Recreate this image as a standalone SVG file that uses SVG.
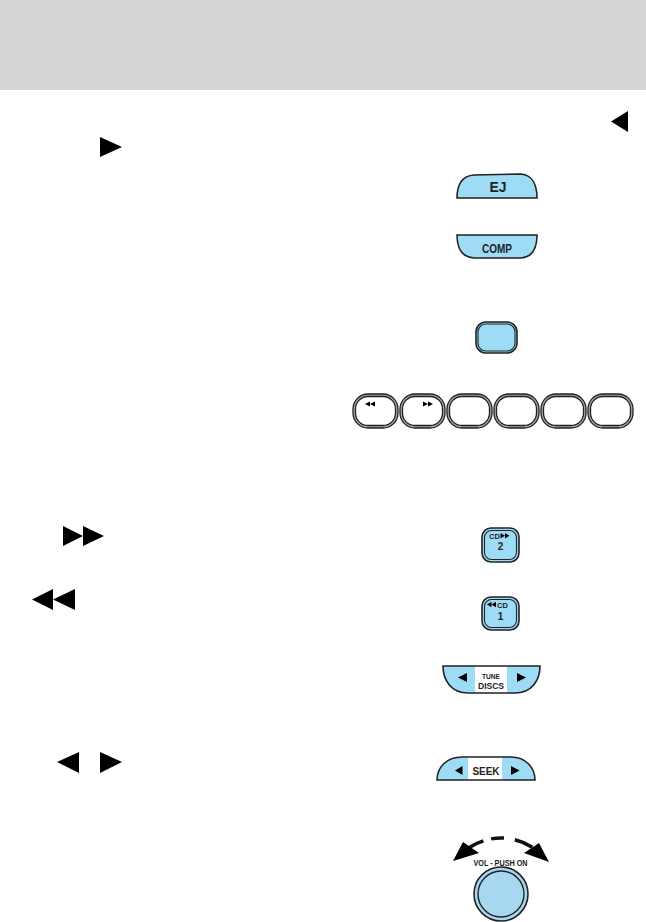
<svg xmlns="http://www.w3.org/2000/svg" width="646" height="922" viewBox="0 0 646 922">
<defs>
<style>
.bf{fill:#9edcf6;stroke:#222;stroke-width:1.6}
.ol{fill:none;stroke:#222;stroke-width:1.1}
.ob{fill:#a8a8a8;stroke:#222;stroke-width:1.3}
.ib{fill:#fff;stroke:#222;stroke-width:1.3}
.t{font-family:"Liberation Sans Narrow","Liberation Sans",Arial,sans-serif;font-weight:bold;fill:#222;text-anchor:middle}
.k{fill:#000}
.w{fill:#fff}
</style>
</defs>
<rect x="0" y="0" width="646" height="90" fill="#d4d4d4"/>
<g id="text-icons">
<polygon class="k" points="611,121.5 628,111 628,132"/>
<polygon class="k" points="100,137 100,157 122,147"/>
<polygon class="k" points="63,526 63,546 83,536"/>
<polygon class="k" points="83,526 83,546 104,536"/>
<polygon class="k" points="32,599.5 53,589 53,610"/>
<polygon class="k" points="53,599.5 75,589 75,610"/>
<polygon class="k" points="57,762 79,752 79,773"/>
<polygon class="k" points="100,752 100,773 122,762"/>
</g>
<g id="ej">
<path class="bf" d="M457,198 C457,186 461,176 474,175 L521,174 C533,175 537,186 537,198 Z"/>
<text class="t" x="498" y="192" font-size="14.5" textLength="17" lengthAdjust="spacingAndGlyphs">EJ</text>
</g>
<g id="comp">
<path class="bf" d="M457,235 L537,235 C537,247 533,257 521,258 L474,258 C461,257 457,247 457,235 Z"/>
<text class="t" x="497" y="252.5" font-size="13" textLength="30" lengthAdjust="spacingAndGlyphs">COMP</text>
</g>
<g id="square">
<rect class="bf" x="476" y="322" width="41" height="31" rx="10" stroke-width="2.2"/>
<rect class="ol" x="478" y="324" width="37" height="27" rx="8"/>
</g>
<g id="presets">
<rect class="ob" x="353" y="394" width="45" height="34" rx="15"/>
<rect class="ib" x="355.5" y="396.5" width="40" height="29" rx="12.5"/>
<polygon class="k" points="365,404 370,401.5 370,406.5"/>
<polygon class="k" points="370,404 375,401.5 375,406.5"/>
<rect class="ob" x="400" y="394" width="45" height="34" rx="15"/>
<rect class="ib" x="402.5" y="396.5" width="40" height="29" rx="12.5"/>
<polygon class="k" points="423,401.5 423,406.5 428,404"/>
<polygon class="k" points="428,401.5 428,406.5 433,404"/>
<rect class="ob" x="447" y="394" width="45" height="34" rx="15"/>
<rect class="ib" x="449.5" y="396.5" width="40" height="29" rx="12.5"/>
<rect class="ob" x="494" y="394" width="45" height="34" rx="15"/>
<rect class="ib" x="496.5" y="396.5" width="40" height="29" rx="12.5"/>
<rect class="ob" x="541" y="394" width="45" height="34" rx="15"/>
<rect class="ib" x="543.5" y="396.5" width="40" height="29" rx="12.5"/>
<rect class="ob" x="588" y="394" width="45" height="34" rx="15"/>
<rect class="ib" x="590.5" y="396.5" width="40" height="29" rx="12.5"/>
</g>
<g id="cd2">
<rect class="bf" x="482" y="528" width="37" height="34" rx="9"/>
<rect class="ol" x="484.5" y="530.5" width="32" height="29" rx="7"/>
<text class="t" x="494.5" y="538.5" font-size="7.5">CD</text>
<polygon class="k" points="500.5,533 500.5,538.5 505,535.75"/>
<polygon class="k" points="505,533 505,538.5 509.5,535.75"/>
<text class="t" x="500.5" y="550" font-size="10">2</text>
</g>
<g id="cd1">
<rect class="bf" x="482" y="597" width="37" height="33" rx="9"/>
<rect class="ol" x="484.5" y="599.5" width="32" height="28" rx="7"/>
<polygon class="k" points="487,604.5 491.5,601.75 491.5,607.25"/>
<polygon class="k" points="491.5,604.5 496,601.75 496,607.25"/>
<text class="t" x="502.5" y="607.5" font-size="7.5">CD</text>
<text class="t" x="500.5" y="619.5" font-size="10">1</text>
</g>
<g id="tune">
<path fill="#9edcf6" d="M443,666 L540,666 C540,680 532,693 515,693 L468,693 C451,693 443,680 443,666 Z"/>
<rect class="w" x="475" y="666" width="32" height="27"/>
<path fill="none" stroke="#222" stroke-width="1.6" d="M443,666 L540,666 C540,680 532,693 515,693 L468,693 C451,693 443,680 443,666 Z"/>
<polygon class="k" points="458,677.5 467,673 467,682"/>
<polygon class="k" points="517,673 517,682 526,677.5"/>
<text class="t" x="491" y="679" font-size="8" textLength="18" lengthAdjust="spacingAndGlyphs">TUNE</text>
<text class="t" x="491" y="688.5" font-size="9.5" textLength="26" lengthAdjust="spacingAndGlyphs">DISCS</text>
</g>
<g id="seek">
<path fill="#9edcf6" d="M437,780 C437,768 446,757 462,757 L511,757 C526,757 535,768 535,780 Z"/>
<rect class="w" x="468" y="757" width="34" height="23"/>
<path fill="none" stroke="#222" stroke-width="1.6" d="M437,780 C437,768 446,757 462,757 L511,757 C526,757 535,768 535,780 Z"/>
<polygon class="k" points="455,770.5 462.5,766 462.5,775"/>
<polygon class="k" points="511,766 511,775 519.5,770.5"/>
<text class="t" x="486" y="775" font-size="10" textLength="27" lengthAdjust="spacingAndGlyphs">SEEK</text>
</g>
<g id="vol">
<path fill="none" stroke="#111" stroke-width="3.5" d="M469.7,847.2 A57,57 0 0 1 483.4,840.8 M491.1,838.9 A57,57 0 0 1 504,838.1 M514.8,839.7 A57,57 0 0 1 532.3,847.2"/>
<polygon class="k" points="453,861 463,842 479,853"/>
<polygon class="k" points="549,862 539,843 524,853"/>
<text class="t" x="500.5" y="865.5" font-size="9" textLength="54" lengthAdjust="spacingAndGlyphs">VOL - PUSH ON</text>
<circle cx="501" cy="894" r="27" fill="#a8d8f0" stroke="#222" stroke-width="1.6"/>
<circle cx="501" cy="894" r="23" fill="none" stroke="#222" stroke-width="1.4"/>
</g>
</svg>
